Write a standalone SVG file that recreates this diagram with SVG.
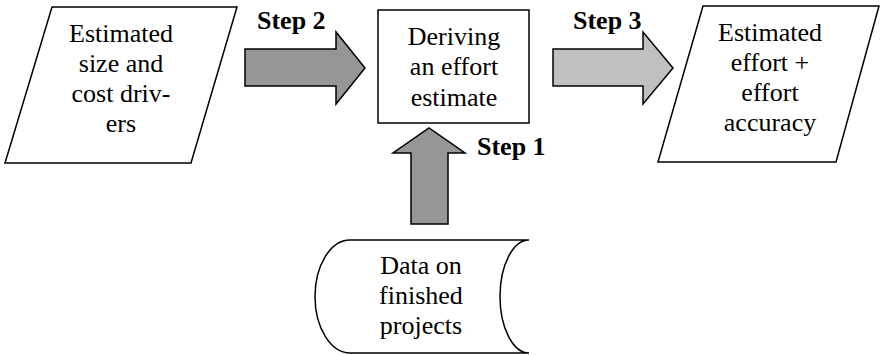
<svg xmlns="http://www.w3.org/2000/svg" width="880" height="355" viewBox="0 0 880 355">
<style>
.shape{fill:#fff;stroke:#000;stroke-width:1.5}
.arr{stroke:#000;stroke-width:1.5;stroke-linejoin:miter}
.dark{fill:#969696}
.light{fill:#c0c0c0}
text{font-family:"Liberation Serif","Times New Roman",serif;font-size:26px;fill:#000}
.t{text-anchor:middle}
.b{font-weight:bold}
</style>
<rect width="880" height="355" fill="#fff"/>
<g id="input">
<polygon class="shape" points="52,7 237,7 191,163 5,163"/>
<text class="t" x="121" y="42">Estimated</text>
<text class="t" x="121" y="72">size and</text>
<text class="t" x="121" y="102">cost driv-</text>
<text class="t" x="121" y="132">ers</text>
</g>
<g id="derive">
<rect class="shape" x="378" y="10" width="151" height="113"/>
<text class="t" x="454" y="45">Deriving</text>
<text class="t" x="454" y="75">an effort</text>
<text class="t" x="454" y="106">estimate</text>
</g>
<g id="output">
<polygon class="shape" points="703,6 879,6 836,162 658,162"/>
<text class="t" x="770" y="41">Estimated</text>
<text class="t" x="770" y="71">effort +</text>
<text class="t" x="770" y="101">effort</text>
<text class="t" x="770" y="131">accuracy</text>
</g>
<g id="data">
<path class="shape" d="M350,240 H529 A29,56.5 0 0 0 529,353 H350 A35,56.5 0 0 1 350,240 Z"/>
<text class="t" x="421" y="274">Data on</text>
<text class="t" x="421" y="304">finished</text>
<text class="t" x="421" y="334">projects</text>
</g>
<g id="connectors">
<polygon class="arr dark" points="245,49 336,49 336,32 365,68 336,104 336,86 245,86"/>
<text class="b" x="257" y="29">Step 2</text>
<polygon class="arr light" points="553,49 643,49 643,32 673,68 643,104 643,86 553,86"/>
<text class="b" x="573" y="29">Step 3</text>
<polygon class="arr dark" points="411,224 411,153 393,153 429,128 465,153 448,153 448,224"/>
<text class="b" x="477" y="155">Step 1</text>
</g>
</svg>
